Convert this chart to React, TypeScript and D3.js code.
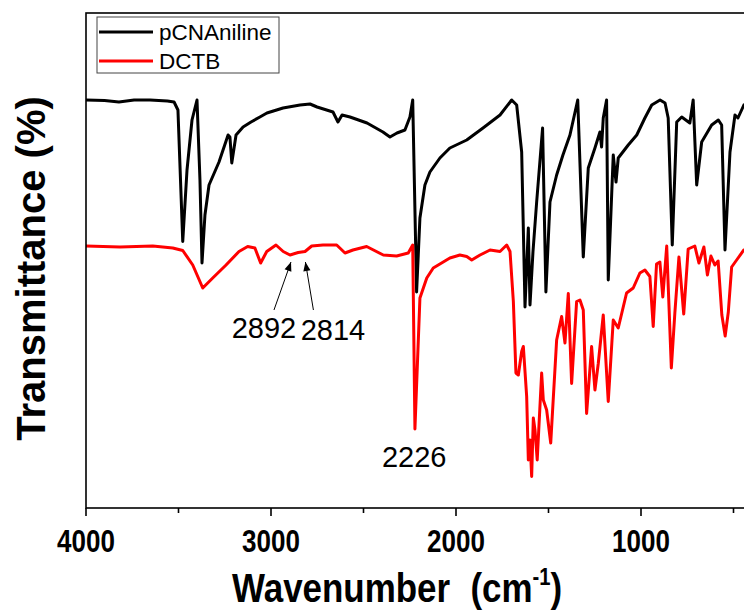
import React from "react";
import * as d3 from "d3";

// pCNAniline spectrum: [wavenumber (cm-1), transmittance (a.u.)]
const pCNAniline: [number, number][] = [
  [4000, 81.6], [3900, 81.5], [3822, 81.2], [3740, 81.6], [3654, 81.6], [3560, 81.4], [3524, 81.2], [3503, 79.6], [3477, 53.3],
  [3454, 67.6], [3427, 77.6], [3400, 81.6], [3384, 65.6], [3373, 49], [3357, 58.6],
  [3335, 64.6], [3281, 69.2], [3232, 74.6], [3222, 74.2], [3212, 69], [3189, 74.6],
  [3151, 76.2], [3108, 77.2], [3060, 78.2], [3022, 79], [2935, 80], [2843, 80.6],
  [2789, 80.8], [2751, 80.2], [2665, 79.2], [2638, 77.2], [2616, 78.6], [2573, 78.2],
  [2481, 77], [2395, 75.2], [2357, 74.2], [2319, 75], [2276, 75.6], [2249, 78.2],
  [2234, 81.6], [2213, 43.2], [2195, 58], [2168, 64.6], [2141, 67.2], [2087, 70],
  [2033, 72], [1942, 73.6], [1854, 76], [1762, 78.6], [1699, 81.6], [1672, 80.6],
  [1645, 71.2], [1627, 40.2], [1609, 56], [1600, 40.6], [1584, 51.2], [1564, 61.2],
  [1532, 76], [1514, 43.2], [1492, 61.2], [1456, 66.6], [1422, 70.6], [1384, 74.6],
  [1342, 81.6], [1312, 50.2], [1285, 68], [1249, 72], [1222, 75.2], [1213, 72.2],
  [1204, 78], [1186, 81.6], [1177, 45.6], [1150, 70.6], [1135, 65.2], [1123, 70],
  [1069, 72.6], [1023, 74.6], [979, 78], [942, 80.6], [897, 81.6], [870, 81],
  [853, 78], [831, 52.6], [807, 77.2], [780, 78.2], [736, 77], [718, 81.6],
  [699, 64.6], [672, 73.2], [618, 76.6], [582, 77.6], [564, 76.6], [546, 51.6],
  [519, 71.2], [492, 78.6], [476, 78], [444, 80.6], [400, 81.2],
];

// DCTB spectrum: [wavenumber (cm-1), transmittance (a.u.)]
const DCTB: [number, number][] = [
  [4000, 52.4], [3816, 52.2], [3639, 52.4], [3531, 52], [3477, 51.5], [3423, 48.6],
  [3369, 44], [3315, 46], [3243, 48.6], [3173, 51.3], [3126, 52.3], [3087, 52],
  [3056, 49], [3023, 51.3], [2973, 52.6], [2934, 51.3], [2897, 50.6], [2853, 51.1],
  [2816, 51.3], [2780, 52.4], [2719, 52.6], [2645, 52.6], [2600, 51], [2557, 51.6],
  [2483, 52.3], [2393, 50.6], [2321, 50.4], [2258, 51], [2234, 52.6], [2222, 15.8],
  [2195, 42], [2158, 46], [2123, 48], [2033, 50], [1979, 50.6], [1942, 50.3],
  [1915, 49.6], [1870, 50.6], [1816, 51.6], [1762, 51.3], [1726, 52.6], [1708, 51.3],
  [1690, 41.3], [1676, 27], [1663, 26.6], [1645, 31.3], [1636, 32.3], [1618, 22.3],
  [1609, 9.6], [1600, 13.6], [1591, 6.3], [1582, 18], [1573, 15.6], [1561, 9.6],
  [1537, 27], [1528, 21.6], [1510, 19.6], [1488, 13], [1456, 33.6], [1429, 38.3],
  [1411, 33], [1393, 42.9], [1375, 24.9], [1348, 41.3], [1330, 41.6], [1312, 39.6],
  [1294, 18.9], [1267, 32.3], [1249, 23.6], [1231, 28.9], [1204, 38.6], [1177, 21.3],
  [1150, 37.6], [1123, 36], [1078, 43], [1042, 44], [1006, 47], [979, 47.6],
  [952, 46.3], [934, 36.3], [916, 48.8], [898, 49.2], [882, 42.2], [861, 52.4],
  [836, 28], [817, 39], [795, 50.2], [769, 38.8], [745, 51.8], [709, 52.4],
  [687, 49], [660, 52.2], [641, 46.6], [622, 50.4], [601, 48.6], [583, 49.4],
  [563, 38.6], [545, 34.4], [528, 39.2], [510, 48.2], [483, 49.6], [444, 51.6],
  [400, 52],
];

const seriesNames = ["pCNAniline", "DCTB"];
const seriesColors = ["#000000", "#ff0000"];
const majorTicks = [4000, 3000, 2000, 1000];
const minorTicks = [3500, 2500, 1500, 500];

// peak annotations
const arrowPeaks = [2892, 2814];
const arrowTipT = [50, 50];
const labelPeak = 2226;

const W = 744;
const H = 615;
const L = 86, T = 13, B = 508, R = 752;
const FONT = "'Liberation Sans', Arial, Helvetica, sans-serif";

export default function App() {
  const x = d3.scaleLinear().domain([4000, 400]).range([L, R]);
  const y = d3.scaleLinear().domain([0, 99]).range([B, T]);
  const line = d3
    .line<[number, number]>()
    .x((d) => x(d[0]))
    .y((d) => y(d[1]));

  const series = [pCNAniline, DCTB];

  return (
    <svg
      width={W}
      height={H}
      style={{ position: "absolute", left: 0, top: 0, background: "#fff" }}
      fontFamily={FONT}
    >
      <defs>
        <clipPath id="plot">
          <rect x={L} y={T} width={R - L} height={B - T} />
        </clipPath>
        <marker id="arr" viewBox="0 0 10 10" refX="10" refY="5" markerWidth="10" markerHeight="9" orient="auto" markerUnits="userSpaceOnUse">
          <path d="M0,1 L10,5 L0,9 z" fill="#000" />
        </marker>
      </defs>
      <rect width={W} height={H} fill="#fff" />

      <g clipPath="url(#plot)">
        {series.map((s, i) => (
          <path
            key={i}
            d={line(s) || ""}
            fill="none"
            stroke={seriesColors[i]}
            strokeWidth={3}
            strokeLinejoin="round"
          />
        ))}
      </g>

      {/* frame */}
      <rect x={L} y={T} width={R - L} height={B - T} fill="none" stroke="#000" strokeWidth={1.6} />

      {/* ticks */}
      {majorTicks.map((t) => (
        <g key={"M" + t}>
          <line x1={x(t)} x2={x(t)} y1={B} y2={B + 8} stroke="#000" strokeWidth={1.6} />
          <text
            transform={`translate(${x(t)},552) scale(1,1.22)`}
            textAnchor="middle"
            fontSize={26}
            fontWeight="bold"
          >
            {t}
          </text>
        </g>
      ))}
      {minorTicks.map((t) => (
        <line key={"m" + t} x1={x(t)} x2={x(t)} y1={B} y2={B + 5} stroke="#000" strokeWidth={1.6} />
      ))}

      {/* axis titles */}
      <text transform="translate(232,602) scale(0.92,1.05)" textAnchor="start" fontSize={38} fontWeight="bold">
        Wavenumber
        <tspan dx={22}>(cm</tspan>
        <tspan dy={-16} fontSize={22}>-1</tspan>
        <tspan dy={16}>)</tspan>
      </text>
      <text
        transform={`translate(45,${(T + B) / 2 + 8}) rotate(-90)`}
        textAnchor="middle"
        fontSize={40}
        fontWeight="bold"
      >
        Transmittance (%)
      </text>

      {/* legend */}
      <rect x={97} y={17} width={182} height={56} fill="#fff" stroke="#444" strokeWidth={1} />
      {seriesNames.map((n, i) => (
        <g key={n}>
          <line x1={99} x2={153} y1={32 + i * 29} y2={32 + i * 29} stroke={seriesColors[i]} strokeWidth={3} />
          <text x={159} y={40 + i * 29} fontSize={22.5}>
            {n}
          </text>
        </g>
      ))}

      {/* annotations */}
      {arrowPeaks.map((p, i) => {
        const tx = x(p);
        const ty = y(arrowTipT[i]) + 4;
        const dx = i === 0 ? -17 : 8;
        return (
          <line key={p} x1={tx + dx} y1={ty + 48} x2={tx} y2={ty} stroke="#000" strokeWidth={1} markerEnd="url(#arr)" />
        );
      })}
      <text x={264} y={338} textAnchor="middle" fontSize={29}>{arrowPeaks[0]}</text>
      <text x={333} y={340} textAnchor="middle" fontSize={29}>{arrowPeaks[1]}</text>
      <text x={x(labelPeak)} y={467} textAnchor="middle" fontSize={29}>{labelPeak}</text>
    </svg>
  );
}
